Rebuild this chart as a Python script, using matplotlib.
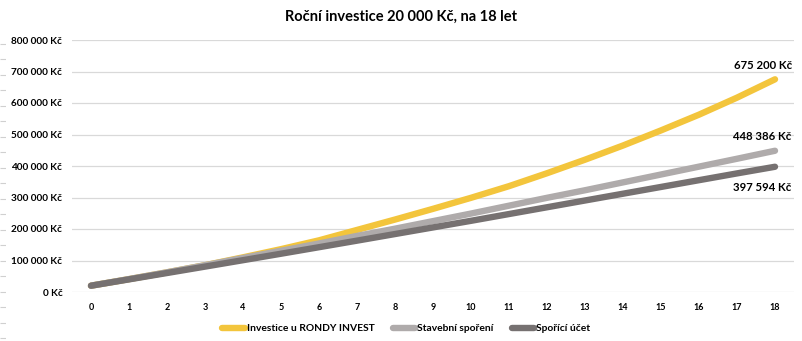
import numpy as np
import matplotlib
matplotlib.use("Agg")
from matplotlib import pyplot as plt

# data
years = list(range(0, 19))
rondy = [20000, 40800, 62400, 85000, 110000, 136000, 164000, 197000, 230000, 264000,
         299000, 336000, 377000, 420000, 465000, 513000, 563000, 617000, 675200]
stavebni = [20000, 41000, 62500, 85000, 108000, 131000, 154000, 178000, 201000, 225000,
            249000, 274000, 299000, 323000, 348000, 373000, 398000, 423000, 448386]
sporici = [20000, 40100, 60300, 80600, 101000, 121500, 142200, 163000, 184000, 205000,
           226000, 247500, 269000, 290500, 312000, 333500, 355000, 376500, 397594]
series_names = ["Investice u RONDY INVEST", "Stavební spoření", "Spořící účet"]
colors = ["#f3c53c", "#afabab", "#767171"]
title = "Roční investice 20 000 Kč, na 18 let"

plt.rcParams['font.family'] = ['Lato', 'DejaVu Sans']


def kc(v):
    return "{:,.0f} Kč".format(v).replace(",", " ")


fig = plt.figure(figsize=(8.03, 3.41), dpi=100)
ax = fig.add_axes([72 / 803, 49 / 341, 722 / 803, 252 / 341])

for vals, name, col in zip([rondy, stavebni, sporici], series_names, colors):
    ax.plot(years, vals, color=col, lw=4.6, solid_capstyle='round', label=name)

ax.set_xlim(-0.5, 18.5)
ax.set_ylim(0, 800000)
ax.set_yticks(np.arange(0, 800001, 100000))
ax.set_yticklabels([kc(v) for v in ax.get_yticks()], fontsize=7.2, fontweight='bold')
ax.set_xticks(years)
ax.set_xticklabels([str(y) for y in years], fontsize=6.5, fontweight='bold')
ax.tick_params(length=0, pad=7)
ax.tick_params(axis='x', pad=8)
ax.grid(axis='y', color='#d9d9d9', lw=0.9)
ax.set_axisbelow(True)
for s in ax.spines.values():
    s.set_visible(False)

# end value labels
lab = dict(textcoords='offset points', ha='right', fontsize=8.2, fontweight='bold')
ax.annotate(kc(rondy[-1]), (years[-1], rondy[-1]), xytext=(12, 6), va='bottom', **lab)
ax.annotate(kc(stavebni[-1]), (years[-1], stavebni[-1]), xytext=(12, 6), va='bottom', **lab)
ax.annotate(kc(sporici[-1]), (years[-1], sporici[-1]), xytext=(12, -11), va='top', **lab)

fig.text(0.5, 1 - 17 / 341, title, ha='center', va='center', fontsize=10.5, fontweight='bold')

leg = ax.legend(loc='upper center', bbox_to_anchor=(0.463, -0.09), ncol=3, frameon=False,
                prop={'size': 7.4, 'weight': 'bold'}, handlelength=2.2, handletextpad=0.15,
                columnspacing=1.8)

# faint tick dashes along the left edge of the image
edge = fig.add_axes([0, 0, 6 / 803, 1])
edge.set_xlim(0, 1)
edge.set_ylim(341, 0)
edge.hlines(np.arange(43.5, 340, 15.5), 0, 1, color='#d0d0d0', lw=0.8)
edge.axis('off')

fig.savefig('out.png', dpi=100)
